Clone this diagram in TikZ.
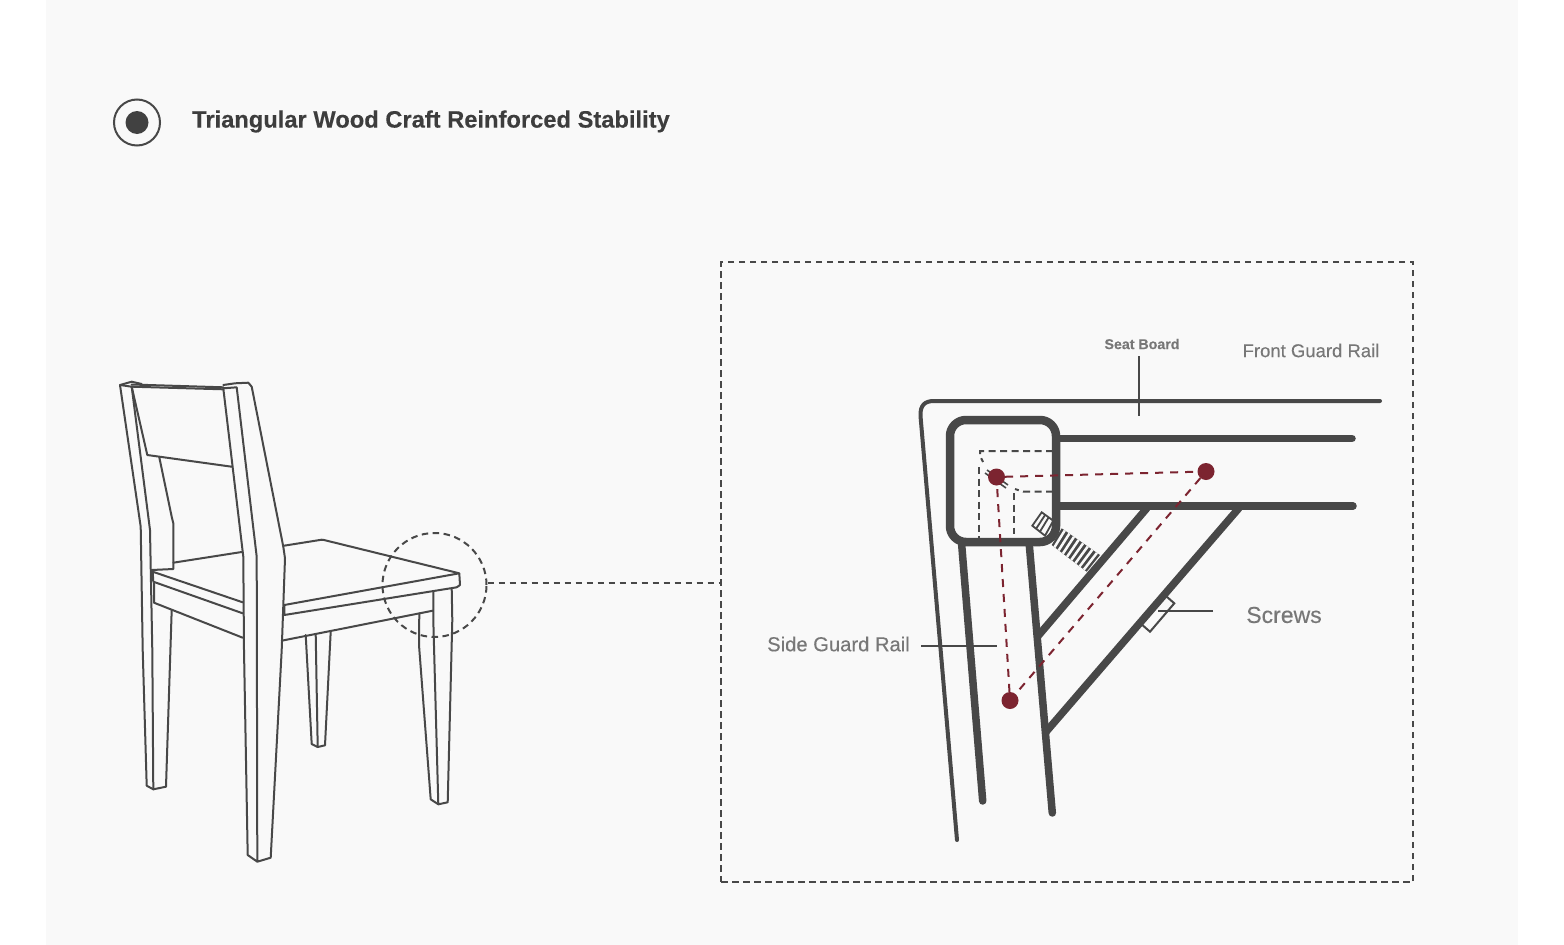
\documentclass[tikz,border=0pt]{standalone}
\usepackage{fontspec}
\setmainfont{Liberation Sans}
\newfontfamily\labelfont{Liberation Sans}[FakeBold=0.25]
\newfontfamily\headfont{Liberation Sans Bold}[FakeBold=0.2]
\usetikzlibrary{calc}
\definecolor{panelgray}{HTML}{F9F9F9}
\definecolor{inkgray}{HTML}{484848}
\definecolor{labelgray}{HTML}{777777}
\definecolor{pinred}{HTML}{7C2430}
\tikzset{
  chairline/.style={draw=inkgray,line width=2pt,line join=round,line cap=round},
  railline/.style={draw=inkgray,line width=7.5pt,line cap=round},
  leaderline/.style={draw=inkgray,line width=2pt},
  dashline/.style={draw=inkgray,line width=2pt,dash pattern=on 6.5pt off 4.5pt},
  hiddenline/.style={draw=inkgray,line width=2pt,dash pattern=on 7pt off 4.5pt},
  pinline/.style={draw=pinred,line width=2pt,dash pattern=on 8pt off 7pt},
  pindot/.style={circle,fill=pinred,inner sep=0pt,minimum size=17pt},
  railtext/.style={text=labelgray,inner sep=0pt}
}
\begin{document}
\begin{tikzpicture}[x=1pt,y=-1pt]
  \useasboundingbox (0,0) rectangle (1564,945);
  \fill[panelgray] (46,0) rectangle (1518,945);

  \node (ring) [circle,draw=inkgray,line width=2pt,minimum size=46pt,inner sep=0pt] at (137,122.5) {};
  \node (core) [circle,fill=inkgray!90!black,minimum size=23pt,inner sep=0pt] at (ring.center) {};
  \node (title) [anchor=west,inner sep=0pt,text=inkgray!85!black,font=\fontsize{23.7}{28}\headfont] at (192,121.5) {Triangular Wood Craft Reinforced Stability};

  % chair
  \draw[chairline] (141.7,384) -- (131.7,381.7) -- (120,385) -- (140.7,526.7) -- (142.7,650) -- (146.7,785.7) -- (153.3,789.3) -- (166,786.7) -- (171.7,610);
  \draw[chairline] (120,385) -- (131.7,386.7) -- (150,530) -- (152.3,650) -- (153.3,789.3);
  \draw[chairline] (131.7,386.7) -- (223.3,389.3);
  \draw[chairline] (131.7,384.5) -- (223.3,387.3);
  \draw[chairline] (131.7,386.7) -- (147.3,455) -- (231.7,466.7);
  \draw[chairline] (159.3,457.3) -- (171.7,516.7) -- (173.3,523.3) -- (173.3,569) -- (151.7,570);
  \draw[chairline] (223.3,385) -- (235,383.3) -- (248.3,382.7) -- (251.7,386.7) -- (283.3,546.7) -- (285,558.3) -- (281.7,650) -- (270.7,857.7) -- (257.3,861.7) -- (247.7,855) -- (244,650) -- (243.3,556.7) -- (223.3,388.3) -- (236.7,387.3) -- (256.7,556.7) -- (257.3,861.7);
  \draw[chairline] (173.3,562.7) -- (241.7,552);
  \draw[chairline] (284,545.7) -- (321.7,539.7) -- (324,540) -- (459.3,573.3) -- (284.3,605) -- (284.3,615) -- (456.7,587.3) -- (460,585) -- (459.3,573.3);
  \draw[chairline] (152.7,571.7) -- (242.7,602.3);
  \draw[chairline] (152.7,571.7) -- (153.3,581.7) -- (242.7,613.3);
  \draw[chairline] (154,583.3) -- (154,602.7) -- (242.7,637.7);
  \draw[chairline] (281.7,640.7) -- (432.7,610.7);
  \draw[chairline] (305.7,635) -- (311.7,744) -- (317.7,747) -- (325,745.3) -- (330.7,631.7);
  \draw[chairline] (315.7,634) -- (317.7,747);
  \draw[chairline] (419.3,613.3) -- (419,645) -- (430.7,799.3) -- (438.3,804.3) -- (447.7,802.3) -- (452.3,620) -- (451.7,588.3);
  \draw[chairline] (433.3,591.7) -- (433.3,620) -- (438.3,804.3);

  % callout
  \node (lens) [circle,dashline,minimum size=104pt,inner sep=0pt] at (434.5,585) {};
  \node (frame) [rectangle,dashline,minimum width=692pt,minimum height=620pt,inner sep=0pt] at (1067,572) {};
  \draw[dashline] (lens.east) ++(0,-2) -- (frame.west |- 487,583);

  % screw
  \coordinate (shaftA) at (1061.7,528.3);
  \coordinate (shaftB) at (1100,555);
  \coordinate (shaftC) at (1086.7,571.7);
  \coordinate (shaftD) at (1051.7,545);
  \fill[inkgray] (shaftA) -- (shaftB) -- (shaftC) -- (shaftD) -- cycle;
  \foreach \t in {0.08,0.2,0.32,0.44,0.56,0.68,0.8,0.92}
    \draw[panelgray,line width=2.5pt] ($(shaftA)!\t!(shaftB)$) -- ($(shaftD)!\t!(shaftC)$);
  \coordinate (headA) at (1041.7,512.3);
  \coordinate (headB) at (1053.3,520.7);
  \coordinate (headC) at (1045,535.7);
  \coordinate (headD) at (1032.3,525.7);
  \draw[inkgray,line width=1.8pt,fill=panelgray] (headA) -- (headB) -- (headC) -- (headD) -- cycle;
  \foreach \t in {0.3,0.6}
    \draw[inkgray,line width=1.8pt] ($(headA)!\t!(headB)$) -- ($(headD)!\t!(headC)$);

  % frame of the seat
  \draw[inkgray,line width=4pt,line cap=round] (1380,401) -- (934,401) .. controls (925,401) and (920,405) .. (920.5,416) -- (957,840);
  \draw[railline] (1058,438.5) -- (1352,438.5);
  \draw[railline] (1058,506) -- (1353,506);
  \draw[railline] (961.7,545) -- (982.7,801);
  \draw[railline] (1029.3,545) -- (1052.3,813);
  \draw[railline,line cap=butt] (1147,508) -- (1038,636);
  \draw[railline,line cap=butt] (1239,508) -- (1045,733);
  \draw[inkgray,line width=8.5pt,rounded corners=16pt] (950,420) rectangle (1056,542);

  % hidden corner block
  \draw[hiddenline] (1053,451) -- (980,451) -- (980,456) -- (983,462);
  \draw[hiddenline] (979,467) -- (979,538);
  \draw[hiddenline] (1053,491.7) -- (1023,491.7) -- (1015,489);
  \draw[hiddenline] (1014.3,493) -- (1014.3,534);
  \draw[inkgray,line width=1.6pt] (987,470) -- (1008,485);
  \draw[inkgray,line width=1.6pt] (985,473) -- (1006,488);

  % triangle
  \node (pinA) [pindot] at (996.5,477) {};
  \node (pinB) [pindot] at (1206,471.5) {};
  \node (pinC) [pindot] at (1010,700.5) {};
  \draw[pinline] (pinA) -- (pinB);
  \draw[pinline] (pinB) -- (pinC);
  \draw[pinline] (pinC) -- (pinA);

  % bracket
  \draw[inkgray,line width=2pt] (1166.7,596.7) -- (1174.3,603.3) -- (1150,631.7) -- (1142.3,625);

  % labels
  \node (seat) [railtext,font=\fontsize{14.2}{16}\labelfont\bfseries] at (1142,344) {Seat Board};
  \node (front) [railtext,font=\fontsize{18.5}{22}\labelfont] at (1311,350.5) {Front Guard Rail};
  \node (side) [railtext,font=\fontsize{20.2}{24}\labelfont] at (838.5,644) {Side Guard Rail};
  \node (screws) [railtext,font=\fontsize{23}{26}\labelfont] at (1284,615) {Screws};
  \coordinate (seatend) at (1138.5,416);
  \coordinate (sideend) at (997,645.5);
  \coordinate (screwend) at (1158,610.5);
  \draw[leaderline] (seat.south -| seatend) ++(0,7) -- (seatend);
  \draw[leaderline] (side.east |- sideend) ++(11,0) -- (sideend);
  \draw[leaderline] (screws.west |- screwend) ++(-33,0) -- (screwend);
\end{tikzpicture}
\end{document}
